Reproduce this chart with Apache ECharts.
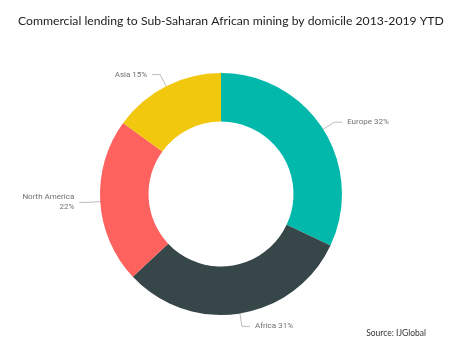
<!DOCTYPE html>
<html>
<head>
<meta charset="utf-8">
<script src="https://cdn.jsdelivr.net/npm/echarts@6/dist/echarts.min.js"></script>
<style>
  html, body { margin: 0; padding: 0; background: #fff; }
  #chart { width: 450px; height: 353px; }
</style>
</head>
<body>
<div id="chart"></div>
<script>
const domiciles = ['Europe', 'Africa', 'North America', 'Asia']
const shares = [32, 31, 22, 15]
const colors = ['#01B8AA', '#374649', '#FD625E', '#F2C80F']

const myChart = echarts.init(document.getElementById('chart'))
myChart.setOption({
  animation: false,
  title: [{
    text: 'Commercial lending to Sub-Saharan African mining by domicile 2013-2019 YTD',
    left: 13,
    top: 10,
    textStyle: {
      fontFamily: 'Lato',
      fontSize: 12.2,
      fontWeight: 'normal',
      color: '#222'
    }
  }, {
    text: 'Source: IJGlobal',
    right: 19,
    top: 324,
    textStyle: {
      fontFamily: 'Lato',
      fontSize: 8.5,
      fontWeight: 'normal',
      color: '#333'
    }
  }],
  color: colors,
  series: [{
    type: 'pie',
    center: [221, 194],
    radius: [72.5, 121],
    startAngle: 90,
    clockwise: true,
    avoidLabelOverlap: false,
    label: {
      fontFamily: 'Roboto',
      fontSize: 8,
      color: '#707070',
      lineHeight: 10,
      formatter: function (p) {
        return p.name + (p.name.length > 10 ? '\n' : ' ') + p.value + '%'
      }
    },
    labelLine: {
      length: 13,
      length2: 8,
      lineStyle: { color: '#bbb', width: 1 }
    },
    itemStyle: { borderWidth: 0 },
    emphasis: { disabled: true },
    data: domiciles.map((d, i) => ({ name: d, value: shares[i] }))
  }]
})
</script>
</body>
</html>
